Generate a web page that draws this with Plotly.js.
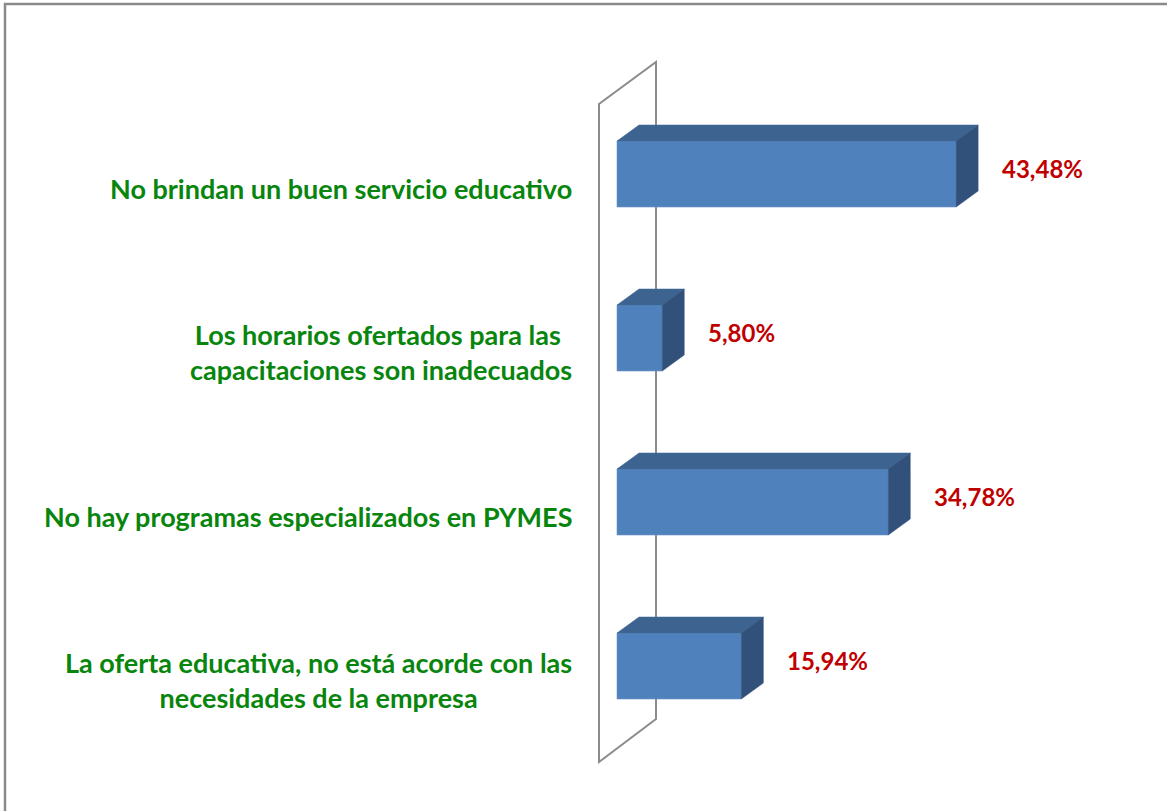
<!DOCTYPE html>
<html>
<head>
<meta charset="utf-8">
<script src="https://cdn.plot.ly/plotly-3.0.1.min.js"></script>
<style>
html,body{margin:0;padding:0;background:#fff;}
#chart{width:1167px;height:811px;}
</style>
</head>
<body>
<div id="chart"></div>
<script>
const categories = [
  "No brindan un buen servicio educativo",
  "Los horarios ofertados para las <br>capacitaciones son inadecuados",
  "No hay programas especializados en PYMES",
  "La oferta educativa, no está acorde con las<br>necesidades de la empresa"
];
const values = [43.48, 5.80, 34.78, 15.94];
const valueLabels = ["43,48%", "5,80%", "34,78%", "15,94%"];

// pixel scale helpers (layout geometry)
const W = 1167, H = 811;
const ML = 580, MR = 67, MT = 40, MB = 21;
const PX = 7.8;      // px per value unit
const PY = 164;      // px per category step
const xMin = -(617 - ML) / PX;
const xMax = xMin + (W - ML - MR) / PX;
const n = categories.length;
const yTopPos = n - 1;
const yMax = yTopPos + (174 - MT) / PY;
const yMin = yMax - (H - MT - MB) / PY;

const dx = 22 / PX, dy = 16 / PY, hh = 33 / PY;
const pos = categories.map((c, i) => n - 1 - i);

const traces = [];
// front faces
traces.push({
  type: 'bar', orientation: 'h',
  x: values, y: pos, width: 2 * hh,
  marker: {color: '#4f81bd', line: {color: '#6b95c9', width: 0.6}},
  hoverinfo: 'skip', showlegend: false
});
// top and right faces
values.forEach((v, i) => {
  const p = pos[i];
  traces.push({
    type: 'scatter', mode: 'lines', fill: 'toself',
    x: [0, v, v + dx, dx, 0],
    y: [p + hh, p + hh, p + hh + dy, p + hh + dy, p + hh],
    fillcolor: '#3d6490', line: {color: '#3d6490', width: 0.5},
    hoverinfo: 'skip', showlegend: false
  });
  traces.push({
    type: 'scatter', mode: 'lines', fill: 'toself',
    x: [v, v + dx, v + dx, v, v],
    y: [p - hh, p - hh + dy, p + hh + dy, p + hh, p - hh],
    fillcolor: '#31517b', line: {color: '#31517b', width: 0.5},
    hoverinfo: 'skip', showlegend: false
  });
});

// back wall (3D floor/wall outline)
const wx0 = -18 / PX, wx1 = 39 / PX;
const wyT0 = yTopPos + 70 / PY, wyB0 = -96 / PY;
const wyT1 = wyT0 + 42 / PY, wyB1 = wyB0 + 43 / PY;

const pxToPaperX = px => (px - ML) / (W - ML - MR);
const pxToPaperY = py => (H - MB - py) / (H - MT - MB);

const shapes = [
  {type: 'path', xref: 'x', yref: 'y', layer: 'below',
   path: `M${wx0},${wyB0} L${wx0},${wyT0} L${wx1},${wyT1} L${wx1},${wyB1} Z`,
   line: {color: '#8c8c8c', width: 2}},
  {type: 'path', xref: 'paper', yref: 'paper', layer: 'above',
   path: `M${pxToPaperX(5)},${pxToPaperY(H + 5)} L${pxToPaperX(5)},${pxToPaperY(4)} L${pxToPaperX(W + 5)},${pxToPaperY(4)}`,
   line: {color: '#8a8a8a', width: 2.5}}
];

const fam = 'Lato, "Open Sans", sans-serif';
const annotations = [];
categories.forEach((c, i) => {
  annotations.push({
    xref: 'paper', yref: 'y', x: 0, y: pos[i], xanchor: 'right', yanchor: 'middle',
    xshift: -6, yshift: -14, align: 'center', showarrow: false,
    text: c, font: {family: fam, size: 27, weight: 700, color: '#08850d'}
  });
  annotations.push({
    xref: 'x', yref: 'y', x: values[i], y: pos[i], xanchor: 'left', yanchor: 'middle',
    xshift: 44, yshift: 6, showarrow: false,
    text: valueLabels[i], font: {family: fam, size: 24, weight: 700, color: '#c00000'}
  });
});

const layout = {
  width: W, height: H,
  margin: {l: ML, r: MR, t: MT, b: MB},
  paper_bgcolor: '#ffffff', plot_bgcolor: '#ffffff',
  xaxis: {range: [xMin, xMax], visible: false, fixedrange: true},
  yaxis: {range: [yMin, yMax], visible: false, fixedrange: true},
  shapes: shapes, annotations: annotations,
  showlegend: false, bargap: 0
};

Plotly.newPlot('chart', traces, layout, {displayModeBar: false, staticPlot: true});
</script>
</body>
</html>
